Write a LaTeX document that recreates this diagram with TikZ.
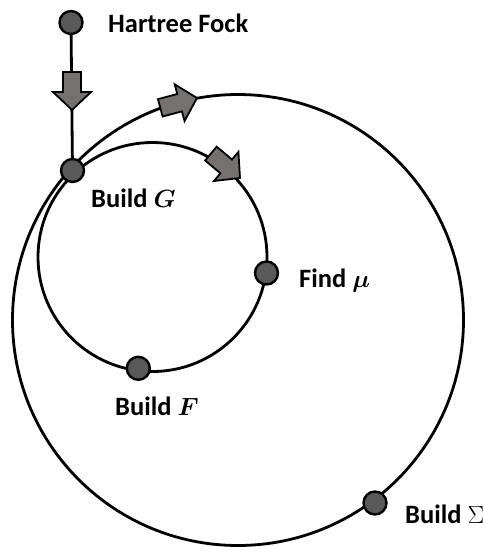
\documentclass[tikz,border=0pt]{standalone}
\usepackage{fontspec}
\setmainfont{Carlito}
\definecolor{nodegrey}{HTML}{595959}
\definecolor{arrowgrey}{HTML}{767171}
\newcommand\blockarrow[2]{%
  \begin{scope}[shift={#1}, rotate=#2]
    \filldraw[arrowstyle] (0,0) -- (-18,19) -- (-18,9) -- (-38,9) -- (-38,-9) -- (-18,-9) -- (-18,-19) -- cycle;
  \end{scope}}
\begin{document}
\begin{tikzpicture}[x=1pt, y=-1pt,
  dot/.style={circle, draw=black, fill=nodegrey, line width=2.4pt, minimum size=23pt, inner sep=0pt},
  ring/.style={draw=black, line width=2.8pt},
  arrowstyle/.style={draw=black, fill=arrowgrey, line width=1.8pt, line join=miter},
  lbl/.style={font=\fontsize{26.5}{30}\selectfont\bfseries, inner sep=0pt, anchor=base west}]
\useasboundingbox (0,0) rectangle (484,547);
% rings
\coordinate (bigc) at (238,320);
\coordinate (smallc) at (152.5,257);
\draw[ring] (bigc) circle[radius=225.5];
\draw[ring] (smallc) circle[radius=114.5];
% nodes
\node[dot] (hf) at (71,22.5) {};
\node[dot] (g) at (72.5,170.5) {};
\draw[ring] (hf) -- (g);
\node[dot] (mu) at (266.5,273) {};
\node[dot] (f) at (138.3,368.3) {};
\node[dot] (sig) at (375,503) {};
% arrows
\blockarrow{(72,110)}{-90}
\blockarrow{(197,98)}{15}
\blockarrow{(240,178)}{-40}
% labels
\node[lbl] (lhf) at (108,32) {Hartree Fock};
\node[lbl] (lg) at (91,207) {Build {\boldmath$G$}};
\node[lbl] (lmu) at (299,287) {Find {\boldmath$\mu$}};
\node[lbl] (lf) at (115,415) {Build {\boldmath$F$}};
\node[lbl] (ls) at (405,523) {Build $\Sigma$};
\end{tikzpicture}
\end{document}
